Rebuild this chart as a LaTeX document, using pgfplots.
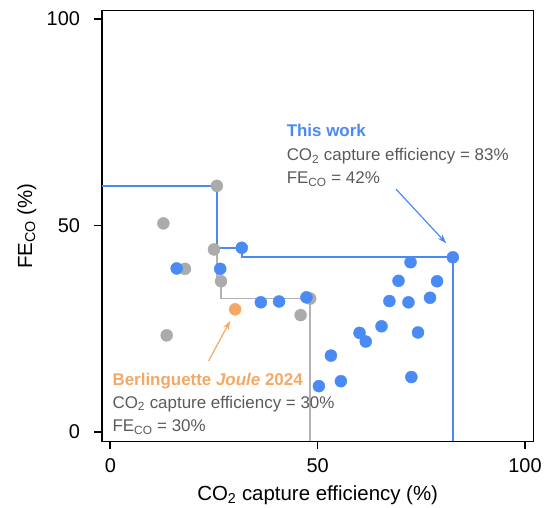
\documentclass[border=0pt]{standalone}
\usepackage{pgfplots}
\pgfplotsset{compat=1.18}
\usepackage{fontspec}
\setmainfont{Liberation Sans}
\usetikzlibrary{arrows.meta}
\definecolor{cblue}{HTML}{4A8AF4}
\definecolor{cgray}{HTML}{ABABAB}
\definecolor{cgrayline}{HTML}{B2B2B2}
\definecolor{corange}{HTML}{F5A864}
\definecolor{ctext}{HTML}{5A5A5A}
\begin{document}
\begin{tikzpicture}
\begin{axis}[
  at={(102bp,66.5bp)}, anchor=south west,
  scale only axis, width=431.3bp, height=430.8bp,
  xmin=-2, xmax=102, ymin=-2.3, ymax=102,
  xtick={0,50,100}, ytick={0,50,100},
  tick pos=left,
  tick align=outside,
  major tick length=7.5bp,
  tick style={black, line width=1.6bp},
  axis line style={line width=1.6bp},
  /pgf/number format/assume math mode=true,
  tick label style={font=\fontsize{20}{24}\selectfont},
  xticklabel style={yshift=-6bp},
  yticklabel style={xshift=-11bp},
  xlabel={CO\textsubscript{2} capture efficiency (\%)},
  ylabel={FE\textsubscript{CO} (\%)},
  label style={font=\fontsize{20.5}{24}\selectfont},
  xlabel style={at={(axis description cs:0.5,-0.1358)}, anchor=base},
  ylabel style={at={(axis description cs:-0.1623,0.5)}, anchor=base, rotate=0},
  clip=false,
]
% Pareto fronts
\addplot[cgrayline, line width=1.8bp, no marks] coordinates {
  (-2,59.6) (25.7,59.6) (25.7,36.5) (26.7,36.5) (26.7,32.3) (48.2,32.3) (48.2,-2.3)
};
\addplot[cblue, line width=1.8bp, no marks] coordinates {
  (-2,59.6) (25.7,59.6) (25.7,44.6) (31.7,44.6) (31.7,42.3) (82.6,42.3) (82.6,-2.3)
};
% previous works
\addplot[only marks, mark=*, mark size=6bp, draw=cgray, fill=cgray] coordinates {
  (25.7,59.6) (12.8,50.5) (25.0,44.2) (18.0,39.5) (26.7,36.5) (48.2,32.3) (45.9,28.3) (13.6,23.4)
};
% Berlinguette Joule 2024
\addplot[only marks, mark=*, mark size=6bp, draw=corange, fill=corange] coordinates {
  (30.1,29.7)
};
% this work
\addplot[only marks, mark=*, mark size=6bp, draw=cblue, fill=cblue] coordinates {
  (31.7,44.6) (16.0,39.6) (26.5,39.5) (36.3,31.4) (40.7,31.6) (47.3,32.6)
  (82.6,42.3) (72.4,41.1) (69.5,36.6) (78.8,36.5) (67.3,31.7) (71.9,31.4)
  (77.1,32.5) (65.4,25.6) (60.1,24.0) (61.6,21.9) (74.2,24.1) (53.2,18.5)
  (55.6,12.3) (50.3,11.1) (72.6,13.3)
};
% annotations
\node[anchor=base west, text=cblue, font=\fontsize{17}{20}\selectfont\bfseries] at (axis cs:41.7,71.5) {This work};
\node[anchor=base west, text=ctext, font=\fontsize{17}{20}\selectfont] at (axis cs:41.7,65.7) {CO\textsubscript{2} capture efficiency = 83\%};
\node[anchor=base west, text=ctext, font=\fontsize{17}{20}\selectfont] at (axis cs:41.7,60.1) {FE\textsubscript{CO} = 42\%};
\draw[cblue, line width=1.2bp, -{Stealth[length=9bp,width=6bp]}] (axis cs:68.9,58.8) -- (axis cs:81.0,45.7);

\node[anchor=base west, text=corange, font=\fontsize{17}{20}\selectfont\bfseries] at (axis cs:-0.3,11.3) {Berlinguette \textit{Joule} 2024};
\node[anchor=base west, text=ctext, font=\fontsize{17}{20}\selectfont] at (axis cs:-0.3,5.8) {CO\textsubscript{2} capture efficiency = 30\%};
\node[anchor=base west, text=ctext, font=\fontsize{17}{20}\selectfont] at (axis cs:-0.3,0.0) {FE\textsubscript{CO} = 30\%};
\draw[corange, line width=1.2bp, -{Stealth[length=9bp,width=6bp]}] (axis cs:23.7,17.2) -- (axis cs:28.9,26.9);
\end{axis}
\pgfresetboundingbox
\path[use as bounding box] (0,0) rectangle (544bp,508bp);
\end{tikzpicture}
\end{document}
